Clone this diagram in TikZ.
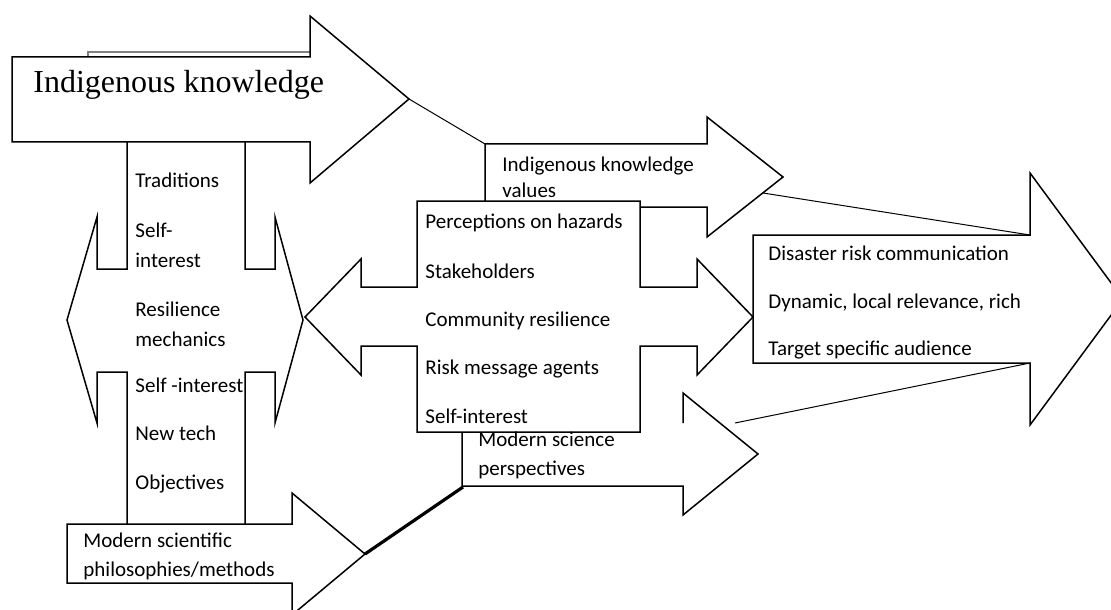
\documentclass[tikz,border=0pt]{standalone}
\usepackage{fontspec}
\setmainfont{Liberation Serif}
\newfontfamily\calibrifont{Carlito}
\begin{document}
\begin{tikzpicture}[x=0.5pt,y=-0.5pt,
  blockarrow/.style={draw=black, fill=white, line width=0.75pt, line join=miter},
  itemtext/.style={font=\calibrifont\fontsize{10.5}{13}\selectfont, anchor=base west, inner sep=0pt},
  titletext/.style={font=\fontsize{16}{19}\selectfont, anchor=base west, inner sep=0pt},
  link/.style={draw=black, line width=0.5pt}]

\clip (0,0) rectangle (1111,609);
\fill[white] (0,0) rectangle (1111,609);

% resilience cross
\draw[blockarrow] (127,100) -- (245,100) -- (245,269) -- (275,269) -- (275,217) -- (303,320) -- (275,423) -- (275,372) -- (245,372) -- (245,525) -- (127,525) -- (127,372) -- (97,372) -- (97,423) -- (67,320) -- (97,217) -- (97,269) -- (127,269) -- cycle;

\draw[gray, line width=1pt] (88,58) -- (88,52) -- (310,52);

% indigenous knowledge
\draw[blockarrow] (12,57) -- (310,57) -- (310,16) -- (409,99) -- (310,183) -- (310,142) -- (12,142) -- cycle;
\node[titletext] (ik) at (33,93) {Indigenous knowledge};

% modern scientific philosophies
\draw[blockarrow] (67,524) -- (292,524) -- (292,493) -- (365,554) -- (292,615) -- (292,583) -- (67,583) -- cycle;

\coordinate (ikTip) at (409,99);
\coordinate (ikvCorner) at (485,144);
\coordinate (mspTip) at (365,554);
\coordinate (msCorner) at (463,487);
\draw[link] (ikTip) -- (ikvCorner);
\draw[line width=1.6pt] (mspTip) -- (msCorner);

% indigenous knowledge values
\draw[blockarrow] (485,144) -- (707,144) -- (707,117) -- (783,177) -- (707,237) -- (707,207) -- (485,207) -- cycle;

% modern science perspectives
\fill[white] (462,423) -- (683,423) -- (683,393) -- (758,454) -- (683,515) -- (683,486) -- (462,486) -- cycle;
\draw[blockarrow, fill=none] (683,423) -- (683,393) -- (758,454) -- (683,515) -- (683,486) -- (462,486) -- (462,432);

% centre cross
\draw[blockarrow] (417,201) -- (640,201) -- (640,287) -- (697,287) -- (697,259) -- (753,317) -- (697,375) -- (697,346) -- (640,346) -- (640,432) -- (417,432) -- (417,346) -- (361,346) -- (361,375) -- (305,317) -- (361,259) -- (361,287) -- (417,287) -- cycle;

% disaster risk communication
\draw[blockarrow] (753,235) -- (1030,235) -- (1030,173) -- (1123,299) -- (1030,425) -- (1030,363) -- (753,363) -- cycle;

\coordinate (ikvEdge) at (763,193);
\coordinate (drcTop) at (1030,235);
\coordinate (msEdge) at (735,423);
\coordinate (drcBot) at (1030,363);
\draw[link] (ikvEdge) -- (drcTop);
\draw[link] (msEdge) -- (drcBot);

\node[itemtext] (traditions) at (135,188) {Traditions};
\node[itemtext] (self1) at (135,237) {Self-};
\node[itemtext] (self1b) at (135,267) {interest};
\node[itemtext] (resil) at (135,316) {Resilience};
\node[itemtext] (mech) at (135,346) {mechanics};
\node[itemtext] (self2) at (135,392) {Self -interest};
\node[itemtext] (newtech) at (135,440) {New tech};
\node[itemtext] (object) at (135,489) {Objectives};

\node[itemtext] (msp) at (83,547) {Modern scientific};
\node[itemtext] (mspb) at (83,576) {philosophies/methods};

\node[itemtext] (ikv) at (502,171) {Indigenous knowledge};
\node[itemtext] (ikvb) at (502,198) {values};

\node[itemtext] (percep) at (425,228) {Perceptions on hazards};
\node[itemtext] (stake) at (425,278) {Stakeholders};
\node[itemtext] (commres) at (425,326) {Community resilience};
\node[itemtext] (riskmsg) at (425,374) {Risk message agents};
\node[itemtext] (self3) at (425,423) {Self-interest};

\node[itemtext] (ms) at (478,446) {Modern science};
\node[itemtext] (msb) at (478,475) {perspectives};

\node[itemtext] (drc) at (768,260) {Disaster risk communication};
\node[itemtext] (dyn) at (768,308) {Dynamic, local relevance, rich};
\node[itemtext] (target) at (768,355) {Target specific audience};

\end{tikzpicture}
\end{document}
